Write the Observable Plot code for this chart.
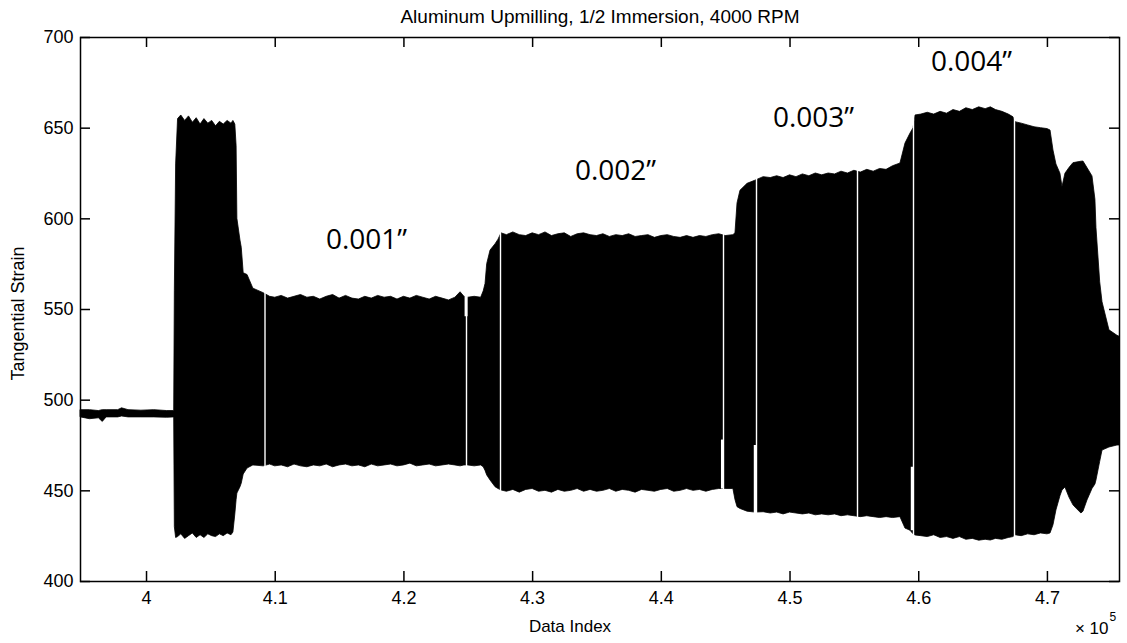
<!DOCTYPE html>
<html><head><meta charset="utf-8">
<script src="https://cdn.jsdelivr.net/npm/d3@7"></script>
<script src="https://cdn.jsdelivr.net/npm/@observablehq/plot@0.6"></script>
<style>html,body{margin:0;padding:0;background:#fff;} svg{display:block}</style>
</head><body><div id="chart"></div>
<script>
// Envelope of the strain signal
const dataIndex = [
394900,395600,396300,396600,396900,397800,398100,398600,399600,400600,401600,402150,
402200,402300,402450,402700,403000,403300,403600,403900,404200,404500,404800,405100,405400,405700,406000,406300,406600,406750,
406900,407000,407060,407300,407400,407550,407850,408300,409100,
409600,410000,410500,411000,411500,412000,412500,413000,413500,414000,414500,415000,415500,416000,416500,417000,417500,418000,418500,419000,419500,420000,420500,421000,421500,422000,422500,423000,423500,424000,424400,424700,425000,425500,426000,426200,426340,426470,426730,427120,427350,427580,
428000,428500,429000,429500,430000,430500,431000,431500,432000,432500,433000,433500,434000,434500,435000,435500,436000,436500,437000,437500,438000,438500,439000,439500,440000,440500,441000,441500,442000,442500,443000,443500,444000,444500,445000,445600,445760,445920,446150,446700,447300,447950,
448500,449000,449500,450000,450500,451000,451500,452000,452500,453000,453500,454000,454500,455000,455500,456000,456500,457000,457500,458000,458580,458970,459360,459600,459750,
460200,460700,461200,461700,462200,462700,463200,463700,464200,464700,465200,465600,466000,466500,467000,467360,467520,468000,468500,469000,469500,470000,470240,470470,470700,471010,471170,471400,471710,472020,472260,472640,472800,473110,473500,473730,473810,474100,474280,474820,475440,475600
];
const upperStrain = [
494.5,494.5,494,494.5,494.5,494.5,495.5,494.5,494.2,494.5,494,494,
560,630,655,657,654,656.5,653,655.5,652,655,652.5,654,651,653.5,652,654,652.5,654,
652,640,600,588,584,570,569,561.5,559,
557,556.5,557.5,556,557,558,556.5,557,555.5,557,558,556,557.5,556,555.5,557,556,557.5,556.5,557,555.5,557,556,557.5,556.5,555.5,557,556,555,556.5,559.5,557,556.5,557,556.5,560,564,575,582.5,586,588.5,592,
591,592.5,591,590.5,592,591,592.5,590.5,591.5,592,590,591.5,592,591,590.5,591.5,590,591,590.5,591.5,590,590.5,591,589.5,590.5,591,590,589.5,590.5,589.5,590.5,590,591,591.5,590.5,591,592,608.5,615.5,619.3,621,623,
622.5,623.5,622.5,624,623,624.5,623.5,625,624,625,624.5,626,625,626.5,625.5,627,626,627.5,627,629,630.5,641.5,647,650,657,
657.5,658.5,657.5,659,658,660,659,661,660,661.5,660.5,661.5,660,659,657.5,656,653.3,652.5,651.5,650.5,650,649.5,648.7,637.7,630,624.9,617.5,624.9,628,630.7,631,631.5,631.6,628,623.4,610.5,595,565,554,538.5,535.5,535
];
const lowerStrain = [
490.5,489.5,490,488,490.5,490.5,491,490.5,490.5,490.5,490.3,490.5,
430,424,424.5,426,423.5,425,426.5,424,425.5,424,426,425,424.5,426,425,426.5,425.5,427,
437,445,448.5,452,454,459,462.3,464,463.5,
464.5,463.5,464,463,464.5,463.5,463,464,463.5,464.5,463,464,464.5,463.5,464,463,464.5,463.5,464,464.5,463.5,464,465,463.5,464,464.5,463.5,464,464.5,464,463.5,464,464,463.5,464,463,461,458.5,455.7,452,451,450.2,
449.5,450.5,449,450.5,451,449.5,450,449,450.5,449.5,450,451,449.5,450.5,449.5,450,451,449.5,450.5,450,449,450.5,450,449.5,450.5,451,449.5,450,451,450,450.5,449.5,450.5,451,451,451,445,441,440,438.5,438,438.2,
437.5,438,437,438,437.5,437,437.5,436.5,437,436.5,437,436,436.5,436,435.5,436,435.5,435,435.5,435,435.5,429.2,428,426,425.4,
425,424.5,425.5,424,424.5,423.5,424.5,423,423.5,422.5,423,422.6,423.5,423,424,424.5,425.5,425,426,425.5,426.5,426,426.5,431,439.2,447,450.2,451.8,446.3,442,440.2,437.5,438.5,444.7,451,453.5,455.7,466,472.2,473.9,475,475
];
// Blank gaps (white vertical lines) in the record
const gapIndex = [409206, 424862, 427504, 444831, 447395, 455243, 459594, 467442];
// Wider white notches near some gaps
const notchIndex = [444750, 447300, 459500, 424830];
const notchLow = [451, 437, 428, 546];
const notchHigh = [478, 475, 463, 558];
// Depth-of-cut annotations
const cutLabels = ["0.001\u201D", "0.002\u201D", "0.003\u201D", "0.004\u201D"];
const cutIndex = [417094, 436441, 451826, 464103];
const cutStrain = [588.5, 626.4, 655.5, 686.3];
// Axes
const xTicks = [400000, 410000, 420000, 430000, 440000, 450000, 460000, 470000];
const xTickLabels = ["4", "4.1", "4.2", "4.3", "4.4", "4.5", "4.6", "4.7"];
const yTicks = [400, 450, 500, 550, 600, 650, 700];
const titleText = "Aluminum Upmilling, 1/2 Immersion, 4000 RPM";
const xLabel = "Data Index";
const yLabel = "Tangential Strain";

const env = dataIndex.map((x, i) => ({x, hi: upperStrain[i], lo: lowerStrain[i]}));
const notches = notchIndex.map((x, i) => ({x, lo: notchLow[i], hi: notchHigh[i]}));
const cuts = cutLabels.map((t, i) => ({t, x: cutIndex[i], y: cutStrain[i]}));
const xLabelMap = new Map(xTicks.map((v, i) => [v, xTickLabels[i]]));

const W = 1127, H = 643, mt = 37, mb = 62, ml = 80, mr = 8;
const innerW = W - ml - mr, innerH = H - mt - mb, tk = 10;
const font = "'Liberation Sans', Arial, Helvetica, sans-serif";

const chart = Plot.plot({
  width: W, height: H,
  marginTop: mt, marginBottom: mb, marginLeft: ml, marginRight: mr,
  style: {fontFamily: font, fontSize: "18px", color: "#000", background: "#fff", overflow: "visible"},
  x: {domain: [394870, 475600]},
  y: {domain: [400, 700]},
  marks: [
    Plot.areaY(env, {x: "x", y1: "lo", y2: "hi", fill: "#000", stroke: "#000", strokeWidth: 0.8}),
    Plot.ruleX(gapIndex, {x: d => d, y1: 415, y2: 668, stroke: "#fff", strokeWidth: 1.4}),
    Plot.ruleX(notches, {x: "x", y1: "lo", y2: "hi", stroke: "#fff", strokeWidth: 3}),
    Plot.frame({stroke: "#000", strokeWidth: 1.5}),
    Plot.tickX(xTicks, {x: d => d, insetTop: innerH - tk, stroke: "#000", strokeWidth: 1.5}),
    Plot.tickX(xTicks, {x: d => d, insetBottom: innerH - tk, stroke: "#000", strokeWidth: 1.5}),
    Plot.tickY(yTicks, {y: d => d, insetRight: innerW - tk, stroke: "#000", strokeWidth: 1.5}),
    Plot.tickY(yTicks, {y: d => d, insetLeft: innerW - tk, stroke: "#000", strokeWidth: 1.5}),
    Plot.axisX(xTicks, {tickSize: 0, tickPadding: 10, tickFormat: d => xLabelMap.get(d), label: null, fontSize: 18}),
    Plot.axisY(yTicks, {tickSize: 0, tickPadding: 7, label: null, fontSize: 18}),
    Plot.text(cuts, {x: "x", y: "y", text: "t", fontFamily: "'Open Sans', sans-serif", fontSize: 28, fontWeight: 500, letterSpacing: 1, fill: "#000"}),
    Plot.text([titleText], {frameAnchor: "top", dy: -28, fontSize: 19, letterSpacing: 0.5, fill: "#000"}),
    Plot.text([xLabel], {frameAnchor: "bottom", dx: -30, dy: 50, fontSize: 17, fill: "#000"}),
    Plot.text([yLabel], {frameAnchor: "left", dx: -62, dy: 4, rotate: -90, textAnchor: "middle", fontSize: 18, fill: "#000"}),
    Plot.text(["\u00D7 10"], {frameAnchor: "bottom-right", dx: -11, dy: 52, textAnchor: "end", fontSize: 17, fill: "#000"}),
    Plot.text(["5"], {frameAnchor: "bottom-right", dx: -10, dy: 39, textAnchor: "start", fontSize: 12, fill: "#000"})
  ]
});
document.getElementById("chart").appendChild(chart);
</script>
</body></html>
